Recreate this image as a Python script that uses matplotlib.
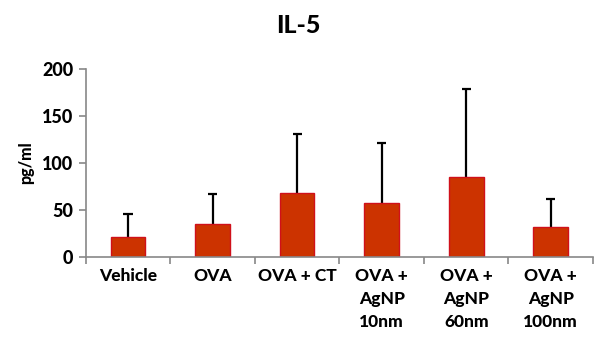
import numpy as np
import matplotlib.pyplot as plt

# --- data ---
groups = ["Vehicle", "OVA", "OVA + CT", "OVA +\nAgNP\n10nm", "OVA +\nAgNP\n60nm", "OVA +\nAgNP\n100nm"]
means = [21.5, 35.5, 67.5, 57, 84.5, 32]
err_upper = [24.5, 31.5, 63.5, 64, 94, 30]
yticks = [0, 50, 100, 150, 200]

plt.rcParams['font.family'] = ['Lato', 'DejaVu Sans']

fig = plt.figure(figsize=(5.96, 3.43), dpi=100)
ax = fig.add_axes([0.144, 0.251, 0.851, 0.548])

x = np.arange(len(groups))
means = np.array(means)
tops = means + np.array(err_upper)
ax.bar(x, means, width=0.41, color="#CC3300", edgecolor="#D0101A", linewidth=1.0, zorder=2)
# one-sided (upper) error bars
ax.vlines(x, means, tops, color="black", linewidth=1.6, zorder=1)
ax.hlines(tops, x - 0.055, x + 0.055, color="black", linewidth=1.6, zorder=1)

ax.set_xlim(-0.5, len(groups) - 0.5)
ax.set_ylim(0, 200)
ax.set_yticks(yticks)
ax.set_yticklabels([str(v) for v in yticks], fontsize=13, fontweight="black")

# category labels sit between boundary ticks
ax.set_xticks(np.arange(len(groups) + 1) - 0.5)
ax.set_xticklabels([])
ax.set_xticks(x, minor=True)
ax.set_xticklabels(groups, minor=True, fontsize=12.5, fontweight="black", linespacing=1.55)
ax.tick_params(axis="x", which="minor", length=0, pad=8)
ax.tick_params(axis="x", which="major", length=5, color="#888888", width=1.2)
ax.tick_params(axis="y", length=5, color="#888888", width=1.2, pad=4)

for s in ["top", "right"]:
    ax.spines[s].set_visible(False)
for s in ["left", "bottom"]:
    ax.spines[s].set_color("#888888")
    ax.spines[s].set_linewidth(1.2)

ax.set_ylabel("pg/ml", fontsize=11.5, fontweight="black", labelpad=6)
fig.text(0.5, 0.925, "IL-5", ha="center", va="center", fontsize=18, fontweight="black")

fig.savefig("out.png", dpi=100)
